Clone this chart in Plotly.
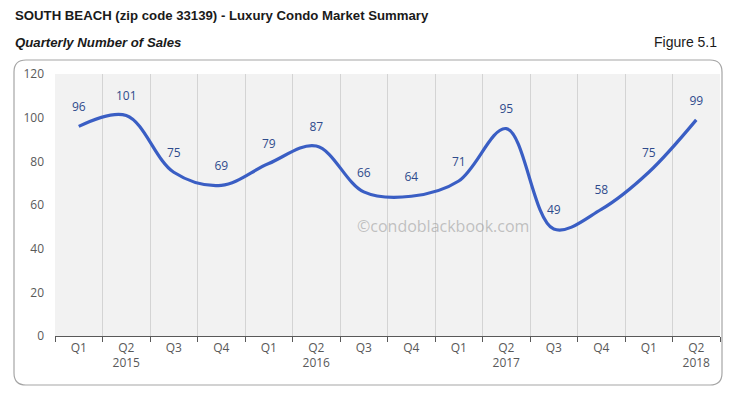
import plotly.graph_objects as go

quarters = ["Q1", "Q2", "Q3", "Q4", "Q1", "Q2", "Q3", "Q4", "Q1", "Q2", "Q3", "Q4", "Q1", "Q2"]
years = ["", "2015", "", "", "", "2016", "", "", "", "2017", "", "", "", "2018"]
sales = [96, 101, 75, 69, 79, 87, 66, 64, 71, 95, 49, 58, 75, 99]
y_ticks = [0, 20, 40, 60, 80, 100, 120]

idx = list(range(len(sales)))
ticktext = [q if not y else f"{q}<br>{y}" for q, y in zip(quarters, years)]

fig = go.Figure()
fig.add_trace(go.Scatter(
    x=idx, y=sales, mode="lines+markers+text",
    line=dict(color="#3A5EC4", width=3.2, shape="spline", smoothing=1.0),
    marker=dict(size=18, color="rgba(0,0,0,0)"),
    text=[str(v) for v in sales], textposition="top center",
    textfont=dict(family="Open Sans, Lato, sans-serif", size=12, color="#2F4B8C"),
    cliponaxis=False, hoverinfo="skip",
))

# page body has an 8px margin: work in reference pixels, shift by OFF
OFF = 8
W, H = 738 - OFF, 398 - OFF
L, R, T, B = 55 - OFF, 738 - 720, 74 - OFF, 398 - 336
pw, ph = W - L - R, H - T - B

def px_x(p):
    return (p - OFF - L) / pw

def px_y(p):
    return (H - B - (p - OFF)) / ph

# rounded outer box
x0, x1 = px_x(14), px_x(722)
y0, y1 = px_y(385), px_y(60)
rx, ry = 12 / pw, 12 / ph
path = (f"M {x0+rx},{y1} L {x1-rx},{y1} Q {x1},{y1} {x1},{y1-ry} "
        f"L {x1},{y0+ry} Q {x1},{y0} {x1-rx},{y0} L {x0+rx},{y0} "
        f"Q {x0},{y0} {x0},{y0+ry} L {x0},{y1-ry} Q {x0},{y1} {x0+rx},{y1} Z")
fig.add_shape(type="path", path=path, xref="paper", yref="paper",
              line=dict(color="#A6A6A6", width=1.2), layer="below")

fig.update_layout(
    width=W, height=H,
    margin=dict(l=L, r=R, t=T, b=B),
    paper_bgcolor="white", plot_bgcolor="#F2F2F2",
    showlegend=False,
    font=dict(family="Open Sans, Lato, sans-serif", color="#595959", size=12),
    xaxis=dict(
        range=[-0.5, len(sales) - 0.5],
        tickmode="array", tickvals=idx, ticktext=ticktext,
        showgrid=False, zeroline=False,
        showline=True, linecolor="#595959", linewidth=1.2,
        ticks="", tickfont=dict(size=12, color="#595959"),
        minor=dict(tickmode="linear", tick0=-0.5, dtick=1, ticks="outside",
                   ticklen=5, tickcolor="#595959", showgrid=True,
                   gridcolor="#D4D4D4", gridwidth=1),
        fixedrange=True,
    ),
    yaxis=dict(
        range=[0, 120], tickvals=y_ticks,
        showgrid=False, zeroline=False, showline=False,
        ticks="", ticklabelstandoff=10,
        tickfont=dict(size=12, color="#595959"),
        fixedrange=True,
    ),
    annotations=[
        dict(text="<b>SOUTH BEACH (zip code 33139) - Luxury Condo Market Summary</b>",
             xref="paper", yref="paper", x=px_x(13), y=px_y(16),
             xanchor="left", yanchor="middle", showarrow=False,
             font=dict(family="Liberation Sans, Arial, sans-serif",
                       size=13.2, color="#1a1a1a")),
        dict(text="<b><i>Quarterly Number of Sales</i></b>",
             xref="paper", yref="paper", x=px_x(13), y=px_y(42),
             xanchor="left", yanchor="middle", showarrow=False,
             font=dict(family="Liberation Sans, Arial, sans-serif",
                       size=13.2, color="#1a1a1a")),
        dict(text="Figure 5.1",
             xref="paper", yref="paper", x=px_x(719), y=px_y(42),
             xanchor="right", yanchor="middle", showarrow=False,
             font=dict(family="Liberation Sans, Arial, sans-serif",
                       size=14, color="#1a1a1a")),
        dict(text="©condoblackbook.com",
             xref="paper", yref="paper", x=px_x(443), y=px_y(226),
             xanchor="center", yanchor="middle", showarrow=False,
             font=dict(family="Open Sans, Lato, sans-serif", size=16,
                       color="rgba(140,140,140,0.5)")),
    ],
)

fig.write_html("out.html")
